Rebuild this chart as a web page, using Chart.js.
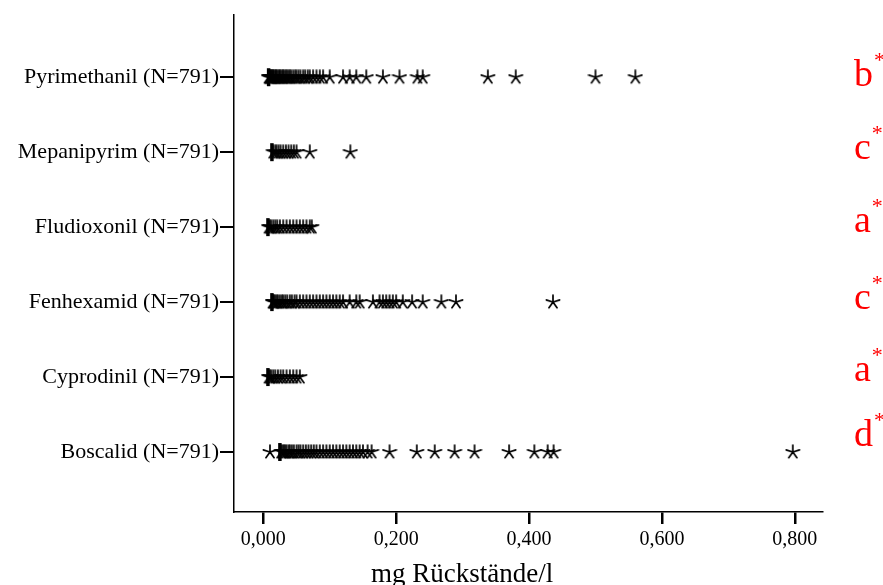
<!DOCTYPE html>
<html>
<head>
<meta charset="utf-8">
<script src="https://cdn.jsdelivr.net/npm/chart.js@4.4.0/dist/chart.umd.min.js"></script>
<style>
  html, body { margin: 0; padding: 0; background: #fff; }
  #wrap { width: 883px; height: 585px; }
</style>
</head>
<body>
<div id="wrap"><canvas id="c" width="883" height="585"></canvas></div>
<script>
// Kategorien (von unten nach oben)
const categories = ['Boscalid (N=791)', 'Cyprodinil (N=791)', 'Fenhexamid (N=791)',
  'Fludioxonil (N=791)', 'Mepanipyrim (N=791)', 'Pyrimethanil (N=791)'];

// Signifikanz-Buchstaben je Kategorie
const letters = ['d', 'a', 'c', 'a', 'c', 'b'];

// Lage der (zusammengefallenen) Box je Kategorie
const boxValues = [0.025, 0.007, 0.013, 0.007, 0.013, 0.008];

// Extremwerte je Kategorie
const boscalid = [0.010, 0.027, 0.029, 0.031, 0.033, 0.035, 0.038, 0.040, 0.043, 0.046, 0.050,
  0.053, 0.056, 0.060, 0.064, 0.068, 0.072, 0.076, 0.080, 0.085, 0.090, 0.095, 0.100, 0.105,
  0.110, 0.115, 0.120, 0.125, 0.130, 0.135, 0.140, 0.145, 0.150, 0.157, 0.163,
  0.190, 0.231, 0.258, 0.288, 0.318, 0.370, 0.408, 0.428, 0.437, 0.797];
const cyprodinil = [0.008, 0.010, 0.012, 0.015, 0.018, 0.022, 0.026, 0.030, 0.035, 0.040, 0.045, 0.050, 0.055];
const fenhexamid = [0.014, 0.015, 0.016, 0.018, 0.020, 0.022, 0.025, 0.028, 0.030, 0.033, 0.036,
  0.040, 0.043, 0.047, 0.050, 0.055, 0.060, 0.065, 0.070, 0.075, 0.080, 0.085, 0.090, 0.095,
  0.100, 0.105, 0.110, 0.115, 0.120, 0.130, 0.140, 0.145, 0.165, 0.175, 0.180, 0.185, 0.190,
  0.195, 0.200, 0.210, 0.224, 0.240, 0.268, 0.290, 0.436];
const fludioxonil = [0.008, 0.010, 0.012, 0.015, 0.018, 0.021, 0.025, 0.030, 0.035, 0.040, 0.045,
  0.050, 0.055, 0.060, 0.065, 0.070, 0.073];
const mepanipyrim = [0.015, 0.018, 0.020, 0.023, 0.026, 0.030, 0.034, 0.038, 0.042, 0.046, 0.050, 0.070, 0.131];
const pyrimethanil = [0.008, 0.009, 0.010, 0.011, 0.012, 0.013, 0.014, 0.015, 0.016, 0.018, 0.019,
  0.020, 0.022, 0.024, 0.025, 0.027, 0.029, 0.030, 0.032, 0.034, 0.036, 0.038, 0.040, 0.042,
  0.045, 0.048, 0.050, 0.053, 0.056, 0.060, 0.063, 0.067, 0.070, 0.075, 0.080, 0.085, 0.090,
  0.100, 0.120, 0.130, 0.140, 0.155, 0.180, 0.205, 0.232, 0.240, 0.338, 0.380, 0.500, 0.560];

const series = [boscalid, cyprodinil, fenhexamid, fludioxonil, mepanipyrim, pyrimethanil];

// x-Achsen-Ticks
const xTicks = [0, 0.2, 0.4, 0.6, 0.8];

const serif = 'Liberation Serif';

// Stern-Symbol wie in SPSS (5 Arme)
function makeStar() {
  const s = document.createElement('canvas');
  s.width = 16; s.height = 16;
  const g = s.getContext('2d');
  g.strokeStyle = '#000';
  g.lineWidth = 1.7;
  g.lineCap = 'round';
  g.beginPath();
  for (let k = 0; k < 5; k++) {
    const a = (-90 + k * 72) * Math.PI / 180;
    g.moveTo(8, 8);
    g.lineTo(8 + 7 * Math.cos(a), 8 + 7 * Math.sin(a));
  }
  g.stroke();
  return s;
}
const star = makeStar();

const datasets = series.map((vals, i) => ({
  data: vals.map(v => ({ x: v, y: i })),
  pointStyle: star,
  pointRadius: 8,
  borderColor: '#000',
  backgroundColor: '#000'
}));
datasets.push({
  data: boxValues.map((v, i) => ({ x: v, y: i })),
  pointStyle: 'line',
  rotation: 90,
  pointRadius: 9,
  borderWidth: 3.5,
  borderColor: '#000',
  backgroundColor: '#000'
});

// Buchstaben rechts und Achsentitel
const extraText = {
  id: 'extraText',
  afterDraw(chart) {
    const ctx = chart.ctx;
    const ys = chart.scales.y;
    const offs = [-6, 4, 7, 5, 7, 9];
    ctx.save();
    ctx.fillStyle = '#ff0000';
    ctx.textBaseline = 'alphabetic';
    ctx.textAlign = 'left';
    letters.forEach((l, i) => {
      const y = ys.getPixelForValue(i) + offs[i];
      ctx.font = '38px "' + serif + '"';
      ctx.fillText(l, 854, y);
      const w = ctx.measureText(l).width;
      ctx.font = '22px "' + serif + '"';
      ctx.fillText('*', 854 + w + 1, y - 19);
    });
    ctx.fillStyle = '#000';
    ctx.font = '27px "' + serif + '"';
    ctx.fillText('mg Rückstände/l', 371, 582);
    ctx.restore();
  }
};

new Chart(document.getElementById('c'), {
  type: 'scatter',
  data: { datasets },
  plugins: [extraText],
  options: {
    responsive: false,
    animation: false,
    events: [],
    layout: { padding: { left: 0, right: 61, top: 15, bottom: 0 } },
    plugins: { legend: { display: false }, tooltip: { enabled: false } },
    elements: { point: { hoverRadius: 0 } },
    scales: {
      x: {
        type: 'linear',
        min: -0.0441,
        max: 0.841,
        afterBuildTicks: s => { s.ticks = xTicks.map(v => ({ value: v })); },
        afterFit: s => { s.height = 73; },
        border: { display: true, color: '#000', width: 1.5 },
        grid: { display: true, drawOnChartArea: false, drawTicks: true, tickLength: 12, color: '#000', lineWidth: 2.5 },
        ticks: {
          color: '#000',
          padding: 4,
          maxRotation: 0,
          font: { family: serif, size: 20 },
          callback: v => v.toFixed(3).replace('.', ',')
        }
      },
      y: {
        type: 'linear',
        min: -0.8,
        max: 5.83,
        afterBuildTicks: s => { s.ticks = categories.map((c, i) => ({ value: i })); },
        afterFit: s => { s.width = 234; },
        border: { display: true, color: '#000', width: 1.5 },
        grid: { display: true, drawOnChartArea: false, drawTicks: true, tickLength: 14, color: '#000', lineWidth: 2 },
        ticks: {
          color: '#000',
          padding: 1,
          font: { family: serif, size: 22 },
          callback: v => categories[v]
        }
      }
    }
  }
});
</script>
</body>
</html>
